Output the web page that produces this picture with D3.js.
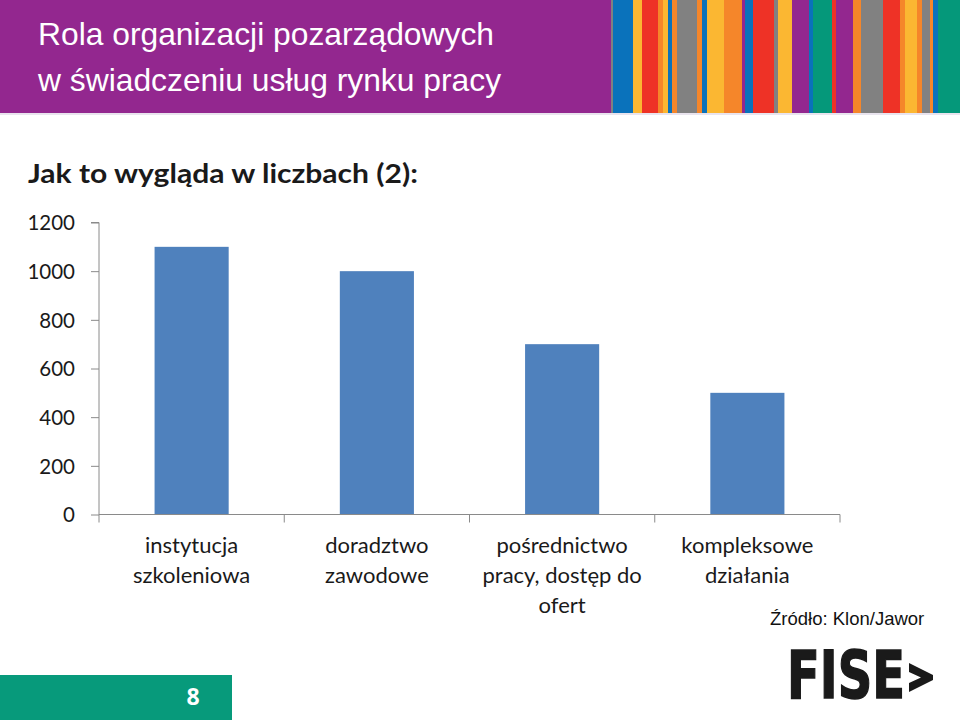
<!DOCTYPE html>
<html><head><meta charset="utf-8">
<script src="https://cdn.jsdelivr.net/npm/d3@7"></script>
<style>html,body{margin:0;padding:0;background:#fff}svg{display:block}</style>
</head><body>
<svg id="c" width="960" height="720"></svg>
<script>
const categories = [
  ["instytucja","szkoleniowa"],
  ["doradztwo","zawodowe"],
  ["pośrednictwo","pracy, dostęp do","ofert"],
  ["kompleksowe","działania"]
];
const values = [1100, 1000, 700, 500];
const yTicks = [0, 200, 400, 600, 800, 1000, 1200];

const svg = d3.select("#c");
const C = {P:"#93278f",B:"#0a72bb",Y:"#fbb732",R:"#ee3226",O:"#f5862a",G:"#818181",T:"#05987a"};
// header decorative stripes (start x, colour)
const stripes = [[600,"P"],[611,"G"],[613,"B"],[633,"Y"],[642,"R"],[658,"O"],[663,"Y"],[668,"B"],[672,"O"],[677,"G"],[697,"O"],[702,"B"],[707,"Y"],[724,"O"],[742,"P"],[745,"B"],[753,"R"],[774,"G"],[778,"Y"],[792,"P"],[809,"B"],[813,"T"],[832,"R"],[836,"P"],[853,"O"],[861,"G"],[883,"R"],[900,"O"],[905,"Y"],[917,"O"],[922,"G"],[930,"O"],[933,"B"],[938,"T"],[960,null]];

svg.append("rect").attr("x",0).attr("y",0).attr("width",611).attr("height",113).attr("fill",C.P);
for (let i=0;i<stripes.length-1;i++){
  svg.append("rect").attr("x",stripes[i][0]).attr("y",0)
    .attr("width",stripes[i+1][0]-stripes[i][0]).attr("height",113).attr("fill",C[stripes[i][1]]);
}
svg.append("rect").attr("x",0).attr("y",113).attr("width",960).attr("height",2).attr("fill","#e9e4ee");

const title = svg.append("text").attr("font-family","'Liberation Sans', Arial, sans-serif")
  .attr("font-size",31.8).attr("fill","#fff");
title.append("tspan").attr("x",38).attr("y",45).text("Rola organizacji pozarządowych");
title.append("tspan").attr("x",38).attr("y",91).text("w świadczeniu usług rynku pracy");

svg.append("text").attr("x",28).attr("y",183).attr("font-family","Lato, 'Open Sans', sans-serif")
  .attr("font-weight",700).attr("font-size",27).attr("fill","#1a1a1a")
  .attr("textLength",390).attr("lengthAdjust","spacingAndGlyphs")
  .text("Jak to wygląda w liczbach (2):");

// chart
const x0 = 99, x1 = 840, yTop = 222.5, yBot = 514.5;
const x = d3.scaleBand().domain(d3.range(values.length)).range([x0,x1]).paddingInner(0.6).paddingOuter(0.3);
const y = d3.scaleLinear().domain([0,1200]).range([yBot,yTop]);
const axisColor = "#8a8a8a";

svg.selectAll("rect.bar").data(values).join("rect").attr("class","bar")
  .attr("x",(d,i)=>x(i)).attr("width",x.bandwidth())
  .attr("y",d=>y(d)).attr("height",d=>yBot-y(d)).attr("fill","#4f81bd");

const ya = svg.append("g").attr("transform",`translate(${x0},0)`)
  .call(d3.axisLeft(y).tickValues(yTicks).tickSize(8).tickPadding(16).tickFormat(d3.format("d")));
ya.select(".domain").attr("stroke",axisColor).attr("d",`M-8,${yTop}H0V${yBot+8}`);
ya.selectAll(".tick line").attr("stroke",axisColor);
ya.selectAll(".tick text").attr("font-family","Lato, 'Open Sans', sans-serif").attr("font-size",20.5)
  .attr("fill","#1a1a1a").attr("dy","0.35em");

// x axis
const edges = d3.range(values.length+1).map(i=> i===values.length ? x1 : x(i) - x.step()*x.paddingInner()/2 - (i===0? x.step()*(x.paddingOuter()-x.paddingInner()/2):0));
svg.append("line").attr("x1",x0).attr("x2",x1).attr("y1",yBot).attr("y2",yBot).attr("stroke",axisColor);
svg.selectAll("line.xt").data(edges.slice(1)).join("line").attr("class","xt")
  .attr("x1",d=>d).attr("x2",d=>d).attr("y1",yBot).attr("y2",yBot+8).attr("stroke",axisColor);

const labels = svg.selectAll("text.cat").data(categories).join("text").attr("class","cat")
  .attr("font-family","Lato, 'Open Sans', sans-serif").attr("font-size",22).attr("fill","#1a1a1a")
  .attr("text-anchor","middle");
labels.each(function(lines,i){
  d3.select(this).selectAll("tspan").data(lines).join("tspan")
    .attr("x",x(i)+x.bandwidth()/2).attr("y",(d,j)=>553+30*j).text(d=>d);
});

svg.append("text").attr("x",770).attr("y",625).attr("font-family","'Liberation Sans', Arial, sans-serif")
  .attr("font-size",18.5).attr("fill","#111").text("Źródło: Klon/Jawor");

// FISE logo
svg.append("text").attr("x",787).attr("y",698).attr("font-family","'DejaVu Sans', sans-serif")
  .attr("font-weight",700).attr("font-size",65).attr("fill","#1a1a1a")
  .attr("stroke","#1a1a1a").attr("stroke-width",1.5)
  .attr("textLength",118).attr("lengthAdjust","spacingAndGlyphs").text("FISE");
svg.append("path").attr("d","M909,663 L933,675 L933,680 L909,692 L909,683 L921,677.5 L909,672 Z").attr("fill","#1a1a1a");

// page number
svg.append("rect").attr("x",0).attr("y",675).attr("width",232).attr("height",45).attr("fill","#079a7b");
svg.append("text").attr("x",193).attr("y",705).attr("text-anchor","middle")
  .attr("font-family","'Open Sans', sans-serif").attr("font-weight",700).attr("font-size",23)
  .attr("fill","#fff").text("8");
</script>
</body></html>
